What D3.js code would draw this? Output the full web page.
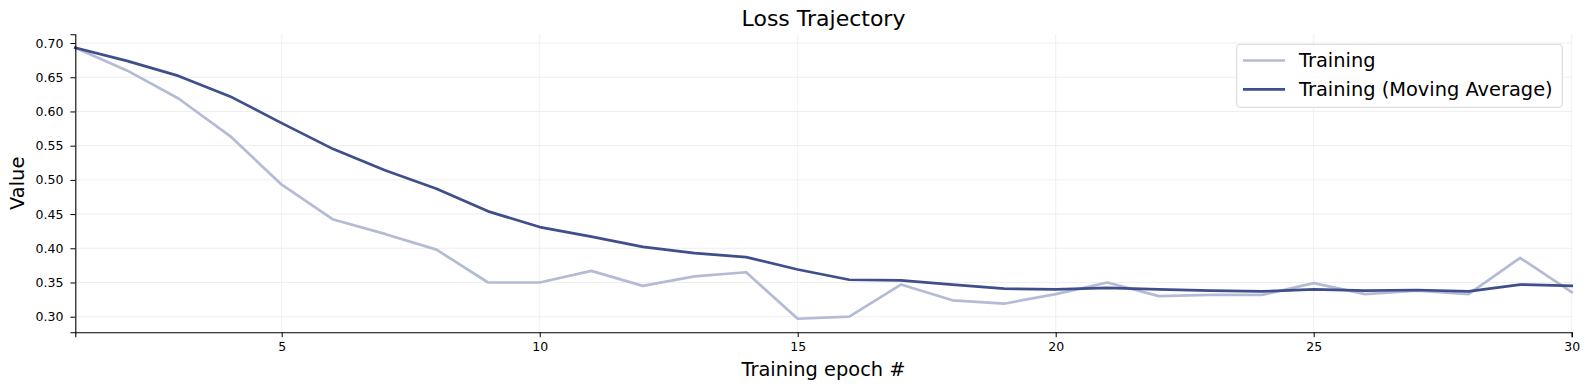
<!DOCTYPE html>
<html>
<head>
<meta charset="utf-8">
<script src="https://cdn.jsdelivr.net/npm/d3@7"></script>
<style>
  body { margin: 0; background: #fff; }
  text { font-family: "DejaVu Sans", sans-serif; fill: #000; }
</style>
</head>
<body>
<script>
let epochs = d3.range(1, 31);
let training = [0.693, 0.660, 0.619, 0.564, 0.493, 0.442, 0.421, 0.398, 0.350, 0.350,
                0.367, 0.345, 0.359, 0.365, 0.297, 0.300, 0.347, 0.324, 0.319, 0.333,
                0.350, 0.330, 0.332, 0.332, 0.349, 0.333, 0.338, 0.333, 0.386, 0.336];
let movingAvg = [0.693, 0.674, 0.652, 0.622, 0.583, 0.545, 0.514, 0.487, 0.454, 0.431,
                 0.417, 0.402, 0.393, 0.387, 0.369, 0.354, 0.353, 0.347, 0.341, 0.340,
                 0.342, 0.340, 0.338, 0.337, 0.340, 0.338, 0.339, 0.337, 0.347, 0.345];
let xTicks = [5, 10, 15, 20, 25, 30];
let yTicks = [0.30, 0.35, 0.40, 0.45, 0.50, 0.55, 0.60, 0.65, 0.70];
let seriesNames = ["Training", "Training (Moving Average)"];

let margin = {top: 34.3, right: 17.3, bottom: 57.7, left: 75.3};
let size = {width: 1589, height: 390};
let colors = {light: "#b4bcd5", dark: "#3e4f8b"};

let svg = d3.select("body").append("svg")
    .attr("width", size.width)
    .attr("height", size.height);

let x = d3.scaleLinear()
    .domain([1, 30])
    .range([margin.left, size.width - margin.right]);

let y = d3.scaleLinear()
    .domain([0.2772, 0.7128])
    .range([size.height - margin.bottom, margin.top]);

// grid
svg.append("g")
    .selectAll("line")
    .data(xTicks)
    .join("line")
    .attr("x1", d => x(d)).attr("x2", d => x(d))
    .attr("y1", margin.top).attr("y2", size.height - margin.bottom)
    .attr("stroke", "#ebebeb").attr("stroke-width", 0.8);

svg.append("g")
    .selectAll("line")
    .data(yTicks)
    .join("line")
    .attr("x1", margin.left).attr("x2", size.width - margin.right)
    .attr("y1", d => y(d)).attr("y2", d => y(d))
    .attr("stroke", "#ebebeb").attr("stroke-width", 0.8);

let xAxis = g => g
    .attr("transform", `translate(0,${size.height - margin.bottom})`)
    .call(d3.axisBottom(x).tickValues(xTicks).tickFormat(d3.format("d")).tickSizeOuter(0).tickSize(4.9).tickPadding(4.8))
    .call(g => g.selectAll("text").attr("font-size", 12.5).attr("font-family", "DejaVu Sans"))
    .call(g => g.select(".domain").attr("stroke-width", 1.1));

let yAxis = g => g
    .attr("transform", `translate(${margin.left},0)`)
    .call(d3.axisLeft(y).tickValues(yTicks).tickFormat(d3.format(".2f")).tickSizeOuter(0).tickSize(4.9).tickPadding(7))
    .call(g => g.selectAll("text").attr("font-size", 12.5).attr("font-family", "DejaVu Sans"))
    .call(g => g.select(".domain").attr("stroke-width", 1.1));

let line = d3.line()
    .x((d, i) => x(epochs[i]))
    .y(d => y(d));

svg.append("path")
    .datum(training)
    .attr("fill", "none")
    .attr("stroke", colors.light)
    .attr("stroke-width", 2.7)
    .attr("stroke-linejoin", "round")
    .attr("stroke-linecap", "square")
    .attr("d", line);

svg.append("path")
    .datum(movingAvg)
    .attr("fill", "none")
    .attr("stroke", colors.dark)
    .attr("stroke-width", 2.7)
    .attr("stroke-linejoin", "round")
    .attr("stroke-linecap", "square")
    .attr("d", line);

svg.append("g").call(xAxis);
svg.append("g").call(yAxis);

// titles
svg.append("text")
    .attr("x", (margin.left + size.width - margin.right) / 2)
    .attr("y", 26)
    .attr("text-anchor", "middle")
    .attr("font-size", 22)
    .text("Loss Trajectory");

svg.append("text")
    .attr("x", (margin.left + size.width - margin.right) / 2)
    .attr("y", 376)
    .attr("text-anchor", "middle")
    .attr("font-size", 19.4)
    .text("Training epoch #");

svg.append("text")
    .attr("transform", `translate(24,${(margin.top + size.height - margin.bottom) / 2}) rotate(-90)`)
    .attr("text-anchor", "middle")
    .attr("font-size", 19.4)
    .text("Value");

// legend
let legend = svg.append("g");
legend.append("rect")
    .attr("x", 1236.7).attr("y", 44.3)
    .attr("width", 325.6).attr("height", 63)
    .attr("rx", 3)
    .attr("fill", "rgba(255,255,255,0.8)")
    .attr("stroke", "#d6d6d6");

let rows = legend.selectAll("g")
    .data(seriesNames)
    .join("g")
    .attr("transform", (d, i) => `translate(1243,${60.5 + i * 28.8})`);

rows.append("line")
    .attr("x1", 0).attr("x2", 42)
    .attr("stroke", (d, i) => i === 0 ? colors.light : colors.dark)
    .attr("stroke-width", 2.7);

rows.append("text")
    .attr("x", 56)
    .attr("y", 6.8)
    .attr("font-size", 19.4)
    .text(d => d);
</script>
</body>
</html>
